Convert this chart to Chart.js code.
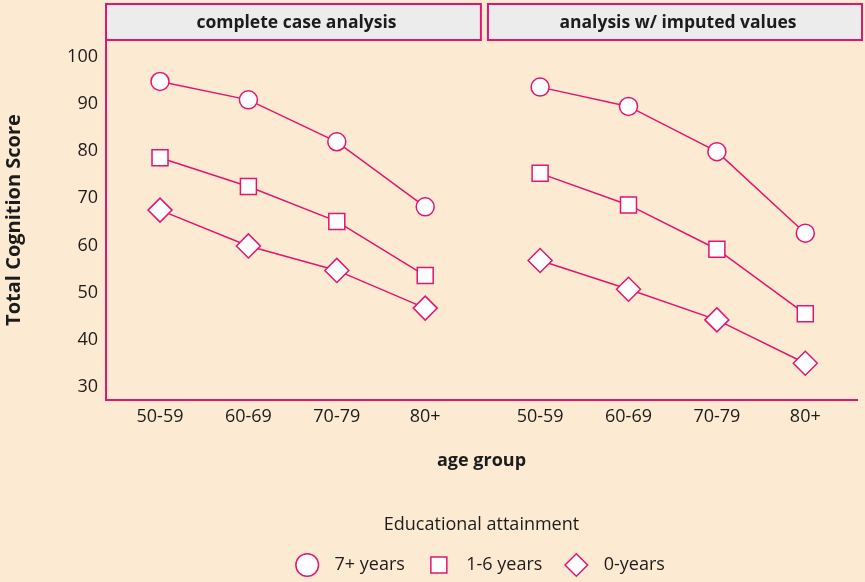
<!DOCTYPE html>
<html>
<head>
<meta charset="utf-8">
<script src="https://cdn.jsdelivr.net/npm/chart.js@4.4.1/dist/chart.umd.min.js"></script>
<style>
  html, body { margin: 0; padding: 0; background: #fdead2; }
  #wrap { width: 865px; height: 582px; }
</style>
</head>
<body>
<div id="wrap"><canvas id="myChart" width="865" height="582"></canvas></div>
<script>
// data
var ageGroups = ['50-59', '60-69', '70-79', '80+'];
var panelTitles = ['complete case analysis', 'analysis w/ imputed values'];
var seriesNames = ['7+ years', '1-6 years', '0-years'];
var yTicks = [30, 40, 50, 60, 70, 80, 90, 100];

var complete7 = [94.8, 90.9, 82.0, 68.2];
var complete16 = [78.6, 72.5, 65.1, 53.6];
var complete0 = [67.5, 59.9, 54.7, 46.7];

var imputed7 = [93.6, 89.5, 79.9, 62.6];
var imputed16 = [75.3, 68.6, 59.2, 45.5];
var imputed0 = [56.8, 50.7, 44.2, 35.0];

var pink = '#e2156f';
var ink = '#1c1c1c';
var rightOffset = 4.3;   // where the second panel starts on the shared x scale

// both panels share one x scale, a null point breaks the line between them
function panelPoints(left, right) {
    var pts = [];
    for (var i = 0; i < left.length; i++) pts.push({x: i, y: left[i]});
    pts.push({x: (left.length - 1 + rightOffset) / 2, y: null});
    for (var j = 0; j < right.length; j++) pts.push({x: j + rightOffset, y: right[j]});
    return pts;
}

var tickPositions = [];
for (var p = 0; p < 2; p++) {
    for (var k = 0; k < ageGroups.length; k++) tickPositions.push(k + p * rightOffset);
}

// grey header strips above each panel
var stripPlugin = {
    id: 'strips',
    afterDraw: function(chart) {
        var c = chart.ctx;
        var xs = chart.scales.x;
        var area = chart.chartArea;
        var bounds = [[area.left, xs.getPixelForValue(3.63)],
                      [xs.getPixelForValue(3.71), area.right + 5]];
        c.save();
        for (var i = 0; i < bounds.length; i++) {
            var x0 = bounds[i][0], x1 = bounds[i][1];
            c.fillStyle = '#ececec';
            c.fillRect(x0, 4, x1 - x0, area.top - 4);
            c.strokeStyle = pink;
            c.lineWidth = 2;
            c.strokeRect(x0, 4, x1 - x0, area.top - 4);
            c.fillStyle = ink;
            c.font = "bold 17.5px 'Open Sans', sans-serif";
            c.textAlign = 'center';
            c.textBaseline = 'middle';
            c.fillText(panelTitles[i], (x0 + x1) / 2 + 3, (4 + area.top) / 2 + 1);
        }
        c.restore();
    }
};

Chart.defaults.font.family = "'Open Sans', sans-serif";
Chart.defaults.color = ink;

var ctx = document.getElementById('myChart').getContext('2d');
var chart = new Chart(ctx, {
    type: 'line',
    data: {
        datasets: [{
            label: seriesNames[0],
            data: panelPoints(complete7, imputed7),
            pointStyle: 'circle',
            pointRadius: 9,
        }, {
            label: seriesNames[1],
            data: panelPoints(complete16, imputed16),
            pointStyle: 'rect',
            pointRadius: 11.3,
        }, {
            label: seriesNames[2],
            data: panelPoints(complete0, imputed0),
            pointStyle: 'rectRot',
            pointRadius: 12,
        }].map(function(ds) {
            ds.borderColor = pink;
            ds.borderWidth = 1.5;
            ds.pointBackgroundColor = '#ffffff';
            ds.pointBorderColor = pink;
            ds.pointBorderWidth = 1.5;
            ds.pointHoverRadius = ds.pointRadius;
            ds.spanGaps = false;
            return ds;
        })
    },
    options: {
        responsive: false,
        animation: false,
        devicePixelRatio: 1,
        layout: {
            autoPadding: false,
            padding: { top: 40, right: 8, bottom: -2, left: 0 }
        },
        scales: {
            x: {
                type: 'linear',
                min: -0.611,
                max: 7.885,
                grid: { display: false, drawTicks: false },
                border: { display: true, color: pink, width: 2 },
                afterBuildTicks: function(scale) {
                    scale.ticks = tickPositions.map(function(v) { return {value: v}; });
                },
                ticks: {
                    padding: 6,
                    font: { size: 18 },
                    callback: function(value, index) { return ageGroups[index % ageGroups.length]; }
                },
                title: {
                    display: true,
                    text: 'age group',
                    font: { size: 18, weight: 'bold' },
                    padding: { top: 16.6, bottom: 10.6 }
                }
            },
            y: {
                min: 27.2,
                max: 103.6,
                grid: { display: false, drawTicks: false },
                border: { display: true, color: pink, width: 2 },
                afterBuildTicks: function(scale) {
                    scale.ticks = yTicks.map(function(v) { return {value: v}; });
                },
                afterFit: function(scale) { scale.width = 106; },
                ticks: { padding: 8, font: { size: 18 } },
                title: {
                    display: true,
                    text: 'Total Cognition Score',
                    font: { size: 20, weight: 'bold' },
                    padding: { top: 2, bottom: 0 }
                }
            }
        },
        plugins: {
            tooltip: { enabled: false },
            legend: {
                position: 'bottom',
                fullSize: false,
                title: {
                    display: true,
                    text: 'Educational attainment',
                    font: { size: 18 },
                    padding: { top: 33, bottom: -6 }
                },
                labels: {
                    usePointStyle: true,
                    boxHeight: 16,
                    padding: 25,
                    font: { size: 18 },
                    color: ink,
                    // a little extra room between marker and text
                    generateLabels: function(chart) {
                        var items = Chart.defaults.plugins.legend.labels.generateLabels(chart);
                        items.forEach(function(it) { it.text = '  ' + it.text; });
                        return items;
                    }
                }
            }
        }
    },
    plugins: [stripPlugin]
});
</script>
</body>
</html>
